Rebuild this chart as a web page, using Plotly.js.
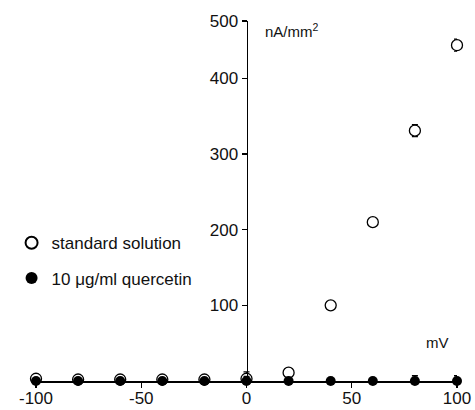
<!DOCTYPE html>
<html>
<head>
<meta charset="utf-8">
<script src="https://cdn.plot.ly/plotly-3.0.1.min.js"></script>
<style>html,body{margin:0;padding:0;background:#fff;}#chart{width:475px;height:410px;}</style>
</head>
<body>
<div id="chart"></div>
<script>
const voltages = [-100, -80, -60, -40, -20, 0, 20, 40, 60, 80, 100];
const standardSolution = [3, 2, 2, 2, 2, 3, 11, 100, 210, 331, 444];
const standardErr = [1, 1, 1, 1, 2, 9, 1, 2, 3, 8, 8];
const quercetin = [0, 0, 0, 0, 0, 0, 0, 0, 0, 0, 0];
const quercetinErr = [1, 1, 1, 1, 3, 6, 1, 1, 1, 7, 7];
const yTickVals = [0, 100, 200, 300, 400, 476];
const yTickText = ["", "100", "200", "300", "400", "500"];
const xTickVals = [-100, -50, 0, 50, 100];
const xTickText = ["-100", "-50", "0", "50", "100"];

const font = "Liberation Sans, Arial, sans-serif";

const traces = [
  {
    x: voltages, y: standardSolution, type: "scatter", mode: "markers",
    name: "standard solution", legendgroup: "a", cliponaxis: false,
    error_y: {type: "data", array: standardErr, visible: true, color: "#000", thickness: 1.2, width: 3},
    marker: {symbol: "circle", size: 11, color: "#fff", line: {width: 1.3, color: "#000"}}
  },
  {
    x: voltages, y: quercetin, type: "scatter", mode: "markers",
    name: "10 \u03bcg/ml quercetin", legendgroup: "b", cliponaxis: false,
    error_y: {type: "data", array: quercetinErr, visible: true, color: "#000", thickness: 1.5, width: 3},
    marker: {symbol: "circle", size: 10, color: "#000"}
  }
];

const layout = {
  width: 475, height: 410,
  margin: {l: 33, r: 18, t: 21, b: 29},
  paper_bgcolor: "#fff", plot_bgcolor: "#fff",
  font: {family: font, size: 17, color: "#111"},
  showlegend: true,
  legend: {x: -0.058, y: 0.334, xanchor: "left", yanchor: "middle", bgcolor: "rgba(0,0,0,0)",
           font: {family: font, size: 17, color: "#111"}, itemsizing: "constant", tracegroupgap: 10},
  xaxis: {
    range: [-100, 100], showgrid: false, zeroline: false,
    showline: true, linecolor: "#000", linewidth: 1.5,
    ticks: "outside", ticklen: 5, tickwidth: 1.3, tickcolor: "#000",
    tickvals: xTickVals, ticktext: xTickText, ticklabelstandoff: -4,
    tickfont: {family: font, size: 17, color: "#111"}
  },
  yaxis: {
    range: [0, 476], showgrid: false, zeroline: false,
    anchor: "free", position: 0.5,
    showline: true, linecolor: "#000", linewidth: 1.5,
    ticks: "outside", ticklen: 5, tickwidth: 1.3, tickcolor: "#000",
    tickvals: yTickVals, ticktext: yTickText,
    tickfont: {family: font, size: 17, color: "#111"}
  },
  annotations: [
    {xref: "paper", yref: "paper", x: 0.54, y: 0.975, xanchor: "left", yanchor: "middle", showarrow: false,
     text: "nA/mm<sup>2</sup>", font: {family: font, size: 15, color: "#111"}},
    {xref: "paper", yref: "paper", x: 0.953, y: 0.106, xanchor: "center", yanchor: "middle", showarrow: false,
     text: "mV", font: {family: font, size: 15, color: "#111"}}
  ]
};

Plotly.newPlot("chart", traces, layout, {displayModeBar: false, staticPlot: true});
</script>
</body>
</html>
